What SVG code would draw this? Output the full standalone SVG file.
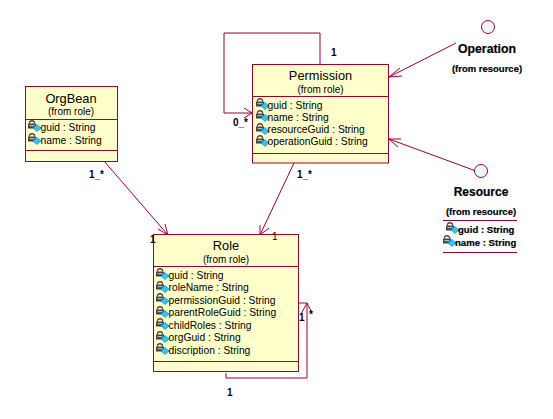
<svg xmlns="http://www.w3.org/2000/svg" width="553" height="419" viewBox="0 0 553 419">
<defs>
<style>
.box{fill:#ffffcb;stroke:#990033;stroke-width:1}
.ln{fill:none;stroke:#990033;stroke-width:1}
.c{stroke:#990033;stroke-width:1;fill:none}
text{font-family:"Liberation Sans",Arial,sans-serif;fill:#000}
.t{font-size:12.800px;text-anchor:middle}
.f{font-size:10px;text-anchor:middle}
.a{font-size:10.300px}
.m{font-size:10px;font-weight:bold}
.b{font-weight:bold;stroke:#000;stroke-width:.2}
</style>
<g id="icon">
<rect x="0" y="3.500" width="8" height="5" fill="#444"/>
<path d="M1.500 3.500V2Q4 -.5 6.500 2V3.500" fill="none" stroke="#444" stroke-width="1.200"/>
<rect x="1.500" y="5" width="5" height="1.200" fill="#bbb"/>
<path d="M5 8L9 4.500L13 8L9 11.500Z" fill="#22ccff" stroke="#1177cc" stroke-width=".6"/>
</g>
</defs>
<rect width="553" height="419" fill="#fff"/>
<g id="connectors">
<path class="c" d="M320 64V33H224V113H252"/>
<path class="c" d="M244 108L252 113L244 118"/>
<path class="c" d="M104 161L168 235"/>
<path class="c" d="M158 229L168 235L165 224"/>
<path class="c" d="M294 163L260 235"/>
<path class="c" d="M260 225L260 235L269 228"/>
<path class="c" d="M456 43L389 77"/>
<path class="c" d="M400 68L389 77L402 76"/>
<path class="c" d="M476 171L389 139"/>
<path class="c" d="M401 139L389 139L398 147"/>
<path class="c" d="M298 303H307V378H226V373"/>
<path class="c" d="M301 314L307 303L312 313"/>
</g>
<g id="permission">
<rect class="box" x="252.500" y="64.500" width="136" height="98.500"/>
<path class="ln" d="M252.500 96.500H388.500M252.500 153.500H388.500"/>
<text class="t" x="320.500" y="80">Permission</text>
<text class="f" x="320.500" y="93">(from role)</text>
<use href="#icon" x="256" y="98"/><text class="a" x="267.500" y="109">guid : String</text>
<use href="#icon" x="256" y="110"/><text class="a" x="267.500" y="121">name : String</text>
<use href="#icon" x="256" y="123"/><text class="a" x="267.500" y="133">resourceGuid : String</text>
<use href="#icon" x="256" y="135"/><text class="a" x="267.500" y="145">operationGuid : String</text>
</g>
<g id="orgbean">
<rect class="box" x="25.500" y="86.500" width="92" height="75"/>
<path class="ln" d="M25.500 119.500H117.500M25.500 150.500H117.500"/>
<text class="t" x="71" y="103">OrgBean</text>
<text class="f" x="71" y="115">(from role)</text>
<use href="#icon" x="28" y="120"/><text class="a" x="40.500" y="131">guid : String</text>
<use href="#icon" x="28" y="133"/><text class="a" x="40.500" y="144">name : String</text>
</g>
<g id="role">
<rect class="box" x="153.500" y="234.500" width="145" height="137"/>
<path class="ln" d="M153.500 266.500H298.500M153.500 361.500H298.500"/>
<text class="t" x="226" y="250">Role</text>
<text class="f" x="226" y="263">(from role)</text>
<use href="#icon" x="156" y="268"/><text class="a" x="168.500" y="279">guid : String</text>
<use href="#icon" x="156" y="281"/><text class="a" x="168.500" y="291">roleName : String</text>
<use href="#icon" x="156" y="293"/><text class="a" x="168.500" y="304">permissionGuid : String</text>
<use href="#icon" x="156" y="306"/><text class="a" x="168.500" y="316">parentRoleGuid : String</text>
<use href="#icon" x="156" y="318"/><text class="a" x="168.500" y="329">childRoles : String</text>
<use href="#icon" x="156" y="331"/><text class="a" x="168.500" y="341">orgGuid : String</text>
<use href="#icon" x="156" y="343"/><text class="a" x="168.500" y="354">discription : String</text>
</g>
<g id="operation">
<circle cx="488" cy="27" r="6.500" fill="#eef5ff" stroke="#990033"/>
<text class="b" x="487" y="53" font-size="12.300" text-anchor="middle">Operation</text>
<text class="b" x="487" y="72" font-size="9.500" text-anchor="middle">(from resource)</text>
</g>
<g id="resource">
<circle cx="481" cy="171" r="6.500" fill="#eef5ff" stroke="#990033"/>
<text class="b" x="481" y="196" font-size="12" text-anchor="middle">Resource</text>
<text class="b" x="481" y="215" font-size="9.500" text-anchor="middle">(from resource)</text>
<path class="ln" d="M443 220.500H517M443 252.500H517"/>
<use href="#icon" x="446" y="222"/><text class="b" x="458" y="233" font-size="9.600">guid : String</text>
<use href="#icon" x="443" y="235"/><text class="b" x="455" y="246" font-size="9.600">name : String</text>
</g>
<g id="labels">
<text class="m" x="331" y="56">1</text>
<text class="m" x="233" y="126">0_*</text>
<text class="m" x="297" y="178">1_*</text>
<text class="m" x="89" y="178">1_*</text>
<text class="m" x="150" y="243">1</text>
<text class="m" x="272" y="240" style="font-weight:normal">1</text>
<text class="m" x="299" y="321">1</text>
<text class="m" x="309" y="318">*</text>
<text class="m" x="227" y="396">1</text>
</g>
</svg>
